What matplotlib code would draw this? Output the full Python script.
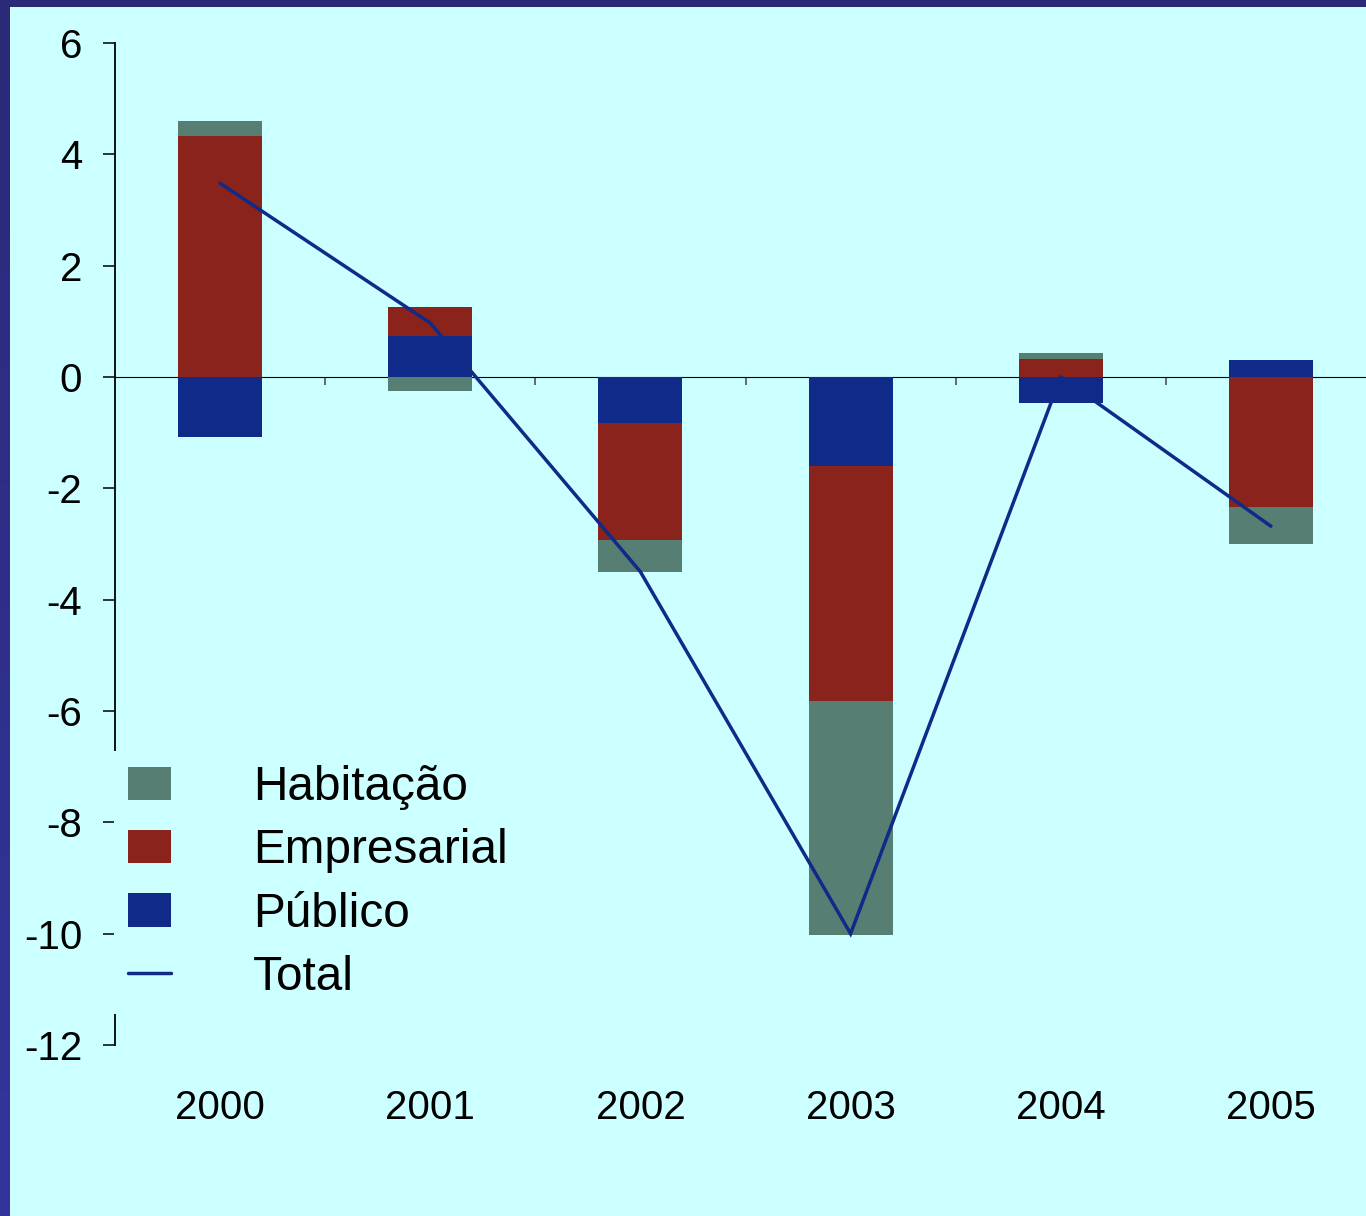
import matplotlib
matplotlib.use("Agg")
import matplotlib.pyplot as plt
import numpy as np
from matplotlib.patches import Rectangle

plt.rcParams['font.family'] = ['Liberation Sans', 'DejaVu Sans']
plt.rcParams['axes.unicode_minus'] = False

# data
anos = ['2000', '2001', '2002', '2003', '2004', '2005']
publico = [-1.08, 0.73, -0.83, -1.59, -0.46, 0.31]
empresarial = [4.33, 0.53, -2.10, -4.23, 0.32, -2.33]
habitacao = [0.27, -0.25, -0.57, -4.20, 0.11, -0.67]
total = [3.48, 0.97, -3.50, -10.0, 0.0, -2.68]

bg = '#CCFFFF'
c_hab = '#577E72'
c_emp = '#89231C'
c_pub = '#0F2A88'

fig = plt.figure(figsize=(13.66, 12.16), dpi=100, facecolor=bg)

# dark blue frame on top and left
grad = fig.add_axes([0, 0, 10 / 1366, 1])
grad.imshow(np.linspace(0, 1, 256).reshape(-1, 1), aspect='auto',
            cmap=matplotlib.colors.LinearSegmentedColormap.from_list('b', ['#2A2A78', '#34349C']),
            extent=[0, 1, 0, 1])
grad.axis('off')
fig.add_artist(Rectangle((0, 1 - 7 / 1216), 1, 7 / 1216, transform=fig.transFigure,
                         facecolor='#2A2A78', edgecolor='none', zorder=5))

ax = fig.add_axes([115 / 1366, 171 / 1216, 1261 / 1366, 1002 / 1216])
ax.set_facecolor('none')

x = np.arange(len(anos))
w = 0.40
pos_base = np.zeros(len(anos))
neg_base = np.zeros(len(anos))
series = [(publico, c_pub, 'Público'), (empresarial, c_emp, 'Empresarial'),
          (habitacao, c_hab, 'Habitação')]
handles = {}
for vals, col, lab in series:
    v = np.array(vals)
    base = np.where(v >= 0, pos_base, neg_base)
    handles[lab] = ax.bar(x, v, w, bottom=base, color=col, label=lab, zorder=1)
    pos_base = pos_base + np.where(v >= 0, v, 0)
    neg_base = neg_base + np.where(v < 0, v, 0)

ln, = ax.plot(x, total, color=c_pub, lw=2.5, solid_capstyle='round',
              solid_joinstyle='miter', zorder=4, label='Total')

ax.set_xlim(-0.5, 5.5)
ax.set_ylim(-12, 6)
ax.set_yticks(np.arange(-12, 7, 2))
ax.set_xticks(x)
ax.set_xticklabels(anos)

for s in ['top', 'right', 'bottom']:
    ax.spines[s].set_visible(False)
ax.spines['left'].set_linewidth(1.3)
ax.tick_params(axis='y', length=8.6, width=1.1, pad=15, labelsize=29, direction='out')
ax.tick_params(axis='x', length=0, pad=32, labelsize=29)

# zero line with category-boundary ticks
zero = ax.secondary_xaxis(12 / 18)
zero.spines['bottom'].set_color('#444444')
zero.spines['bottom'].set_linewidth(1.3)
zero.set_xticks(x[:-1] + 0.5)
zero.set_xticklabels([])
zero.tick_params(length=6, width=1.1, color='#444444', direction='in')

leg = ax.legend([handles['Habitação'], handles['Empresarial'], handles['Público'], ln],
                ['Habitação', 'Empresarial', 'Público', 'Total'],
                loc='upper left', bbox_to_anchor=(113.5 / 1366, 1 - 751 / 1216),
                bbox_transform=fig.transFigure, borderaxespad=0,
                fontsize=34.4, handlelength=0.9, handletextpad=1.72,
                labelspacing=0.38, borderpad=0.3, frameon=True, fancybox=False,
                facecolor=bg, edgecolor='none', framealpha=1)
leg.set_zorder(6)

fig.savefig('out.png', dpi=100, facecolor=bg)
